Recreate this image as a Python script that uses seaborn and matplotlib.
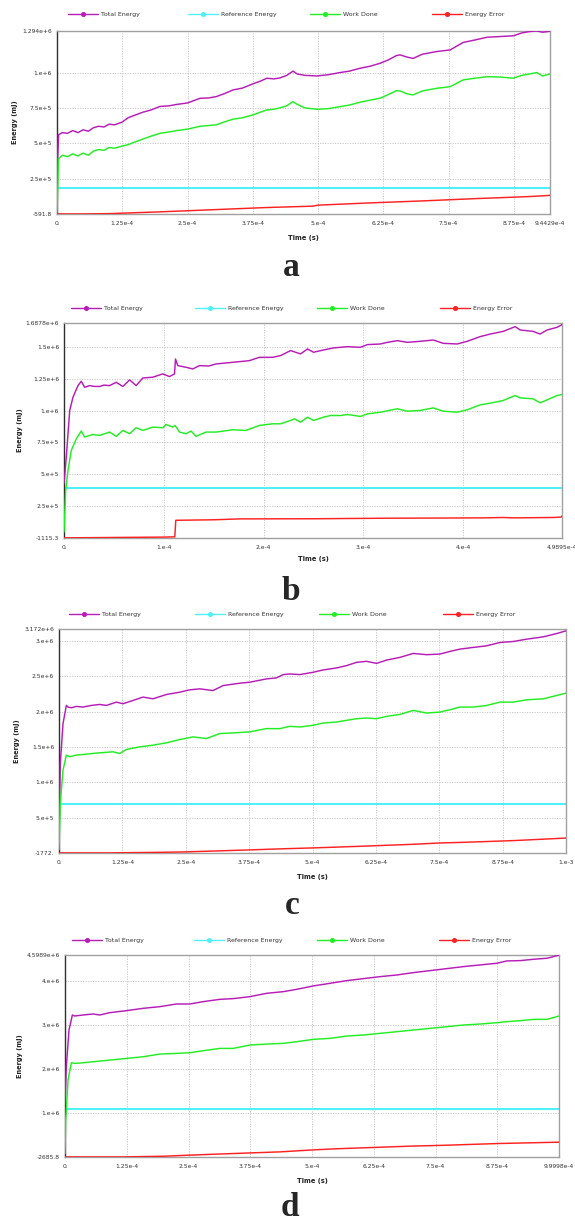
import matplotlib.pyplot as plt
import seaborn as sns
from matplotlib.lines import Line2D

sns.set_style("white")
plt.rcParams['font.family'] = ['DejaVu Sans']

# series names and colours
names = ['Total Energy', 'Reference Energy', 'Work Done', 'Energy Error']
colors = ['#b81cb8', '#4ff0f8', '#22ee22', '#ff2020']

# ---- panel a  (time in 1e-4 s, energy in 1e5 mJ)
a_t = [0, 0.03, 0.1, 0.2, 0.3, 0.4, 0.5, 0.6, 0.7, 0.8, 0.9, 1.0, 1.1, 1.25, 1.36, 1.5,
       1.65, 1.8, 1.97, 2.15, 2.3, 2.5, 2.74, 2.9, 3.05, 3.2, 3.37, 3.55, 3.75, 3.9, 4.02,
       4.15, 4.27, 4.4, 4.52, 4.6, 4.75, 4.98, 5.2, 5.42, 5.6, 5.8, 6.0, 6.19, 6.35, 6.5,
       6.57, 6.7, 6.82, 7.0, 7.28, 7.53, 7.78, 8.0, 8.24, 8.5, 8.74, 8.9, 9.05, 9.19, 9.3, 9.4429]
a_total = [2.5, 5.6, 5.75, 5.7, 5.9, 5.75, 5.95, 5.85, 6.1, 6.2, 6.15, 6.35, 6.3, 6.5, 6.8, 7.0,
           7.2, 7.35, 7.6, 7.65, 7.75, 7.85, 8.18, 8.2, 8.3, 8.5, 8.77, 8.9, 9.2, 9.4, 9.6,
           9.55, 9.62, 9.8, 10.1, 9.9, 9.8, 9.76, 9.85, 10.0, 10.1, 10.3, 10.45, 10.66, 10.9, 11.2,
           11.25, 11.1, 11.0, 11.3, 11.49, 11.6, 12.13, 12.3, 12.5, 12.55, 12.6, 12.8, 12.9, 12.94, 12.85, 12.92]
a_work = [0.0, 3.9, 4.15, 4.05, 4.25, 4.1, 4.3, 4.15, 4.45, 4.55, 4.5, 4.7, 4.65, 4.8, 4.9, 5.1,
          5.3, 5.5, 5.7, 5.8, 5.9, 6.0, 6.2, 6.25, 6.3, 6.5, 6.7, 6.8, 7.0, 7.2, 7.36,
          7.4, 7.5, 7.65, 7.94, 7.75, 7.5, 7.4, 7.45, 7.59, 7.7, 7.9, 8.05, 8.19, 8.45, 8.72,
          8.7, 8.5, 8.42, 8.7, 8.89, 9.0, 9.48, 9.6, 9.71, 9.68, 9.6, 9.8, 9.9, 10.0, 9.76, 9.9]
a_err_t = [0, 0.5, 1.0, 2.0, 3.0, 4.0, 4.9, 5.0, 6.0, 7.0, 8.0, 9.0, 9.4429]
a_err = [0, 0, 0.02, 0.15, 0.3, 0.45, 0.55, 0.62, 0.78, 0.92, 1.08, 1.22, 1.31]
a_ref = 1.82
a_xticks = [0, 1.25, 2.5, 3.75, 5, 6.25, 7.5, 8.75, 9.4429]
a_xlabels = ['0.', '1.25e-4', '2.5e-4', '3.75e-4', '5.e-4', '6.25e-4', '7.5e-4', '8.75e-4', '9.4429e-4']
a_yticks = [-0.005918, 2.5, 5, 7.5, 10, 12.94]
a_ylabels = ['-591.8', '2.5e+5', '5.e+5', '7.5e+5', '1.e+6', '1.294e+6']

# ---- panel b
b_t = [0, 0.023, 0.057, 0.09, 0.14, 0.173, 0.207, 0.257, 0.30, 0.357, 0.40, 0.457, 0.523,
       0.59, 0.657, 0.723, 0.79, 0.89, 0.99, 1.057, 1.107, 1.117, 1.14, 1.223, 1.29, 1.357,
       1.45, 1.523, 1.69, 1.857, 1.957, 2.09, 2.17, 2.27, 2.37, 2.44, 2.50, 2.60, 2.70, 2.84,
       2.97, 3.04, 3.17, 3.24, 3.34, 3.44, 3.57, 3.70, 3.80, 3.94, 4.04, 4.17, 4.27, 4.40,
       4.52, 4.57, 4.70, 4.77, 4.84, 4.94, 4.9895]
b_total = [4.26, 6.35, 10.0, 11.05, 11.96, 12.3, 11.83, 11.96, 11.9, 11.89, 12.0, 11.96, 12.22,
           11.89, 12.41, 11.96, 12.56, 12.62, 12.88, 12.67, 12.88, 14.05, 13.53, 13.4, 13.27, 13.53,
           13.5, 13.66, 13.79, 13.92, 14.18, 14.18, 14.32, 14.71, 14.45, 14.84, 14.58, 14.76, 14.92, 15.02,
           14.97, 15.18, 15.23, 15.36, 15.49, 15.36, 15.44, 15.54, 15.28, 15.23, 15.44, 15.81, 16.01, 16.22,
           16.59, 16.33, 16.22, 16.01, 16.33, 16.54, 16.75]
b_work_t = [0, 0.017, 0.04, 0.073, 0.123, 0.173, 0.207, 0.29, 0.357, 0.457, 0.523, 0.59, 0.657,
            0.723, 0.79, 0.89, 0.99, 1.023, 1.09, 1.113, 1.157, 1.223, 1.273, 1.323, 1.423, 1.523,
            1.69, 1.823, 1.957, 2.09, 2.17, 2.27, 2.31, 2.37, 2.44, 2.50, 2.60, 2.67, 2.77, 2.84,
            2.97, 3.04, 3.17, 3.34, 3.44, 3.57, 3.70, 3.80, 3.94, 4.04, 4.17, 4.27, 4.40, 4.52,
            4.57, 4.70, 4.77, 4.84, 4.94, 4.9895]
b_work = [0.47, 3.74, 5.3, 6.87, 7.78, 8.39, 7.92, 8.12, 8.05, 8.31, 7.97, 8.44, 8.18,
          8.65, 8.44, 8.7, 8.65, 8.91, 8.7, 8.83, 8.31, 8.18, 8.39, 7.97, 8.31, 8.31,
          8.49, 8.44, 8.83, 8.96, 8.96, 9.22, 9.35, 9.09, 9.48, 9.22, 9.48, 9.61, 9.61, 9.69,
          9.54, 9.74, 9.87, 10.14, 9.95, 10.01, 10.21, 9.95, 9.87, 10.06, 10.45, 10.58, 10.79, 11.18,
          11.0, 10.92, 10.61, 10.84, 11.18, 11.26]
b_err_t = [0, 0.5, 1.0, 1.11, 1.12, 1.5, 1.76, 2.5, 3.17, 4.2, 4.4, 4.5, 4.9, 4.98, 4.9895]
b_err = [0, 0.03, 0.06, 0.08, 1.38, 1.42, 1.49, 1.5, 1.54, 1.57, 1.6, 1.57, 1.6, 1.63, 1.7]
b_ref = 3.9
b_xticks = [0, 1, 2, 3, 4, 4.9895]
b_xlabels = ['0.', '1.e-4', '2.e-4', '3.e-4', '4.e-4', '4.9895e-4']
b_yticks = [-0.011153, 2.5, 5, 7.5, 10, 12.5, 15, 16.878]
b_ylabels = ['-1115.3', '2.5e+5', '5.e+5', '7.5e+5', '1.e+6', '1.25e+6', '1.5e+6', '1.6878e+6']

# ---- panel c
c_t = [0, 0.026, 0.079, 0.145, 0.178, 0.243, 0.342, 0.474, 0.638, 0.803, 0.934, 1.132, 1.263,
       1.461, 1.658, 1.855, 2.118, 2.382, 2.579, 2.776, 3.039, 3.237, 3.566, 3.763, 4.092, 4.289,
       4.42, 4.553, 4.75, 5.014, 5.21, 5.475, 5.672, 5.87, 6.067, 6.264, 6.462, 6.725, 6.987,
       7.25, 7.514, 7.711, 7.908, 8.171, 8.436, 8.698, 8.96, 9.225, 9.553, 9.817, 10.0]
c_total = [2.0, 12.68, 18.31, 20.89, 20.66, 20.56, 20.75, 20.66, 20.89, 21.03, 20.89, 21.36, 21.13,
           21.6, 22.07, 21.83, 22.44, 22.77, 23.1, 23.24, 23.0, 23.71, 24.04, 24.18, 24.65, 24.79,
           25.26, 25.35, 25.26, 25.59, 25.92, 26.2, 26.53, 27.0, 27.14, 26.85, 27.32, 27.7, 28.26,
           28.08, 28.17, 28.54, 28.87, 29.11, 29.34, 29.81, 29.95, 30.28, 30.61, 31.08, 31.46]
c_work_t = [0, 0.026, 0.079, 0.145, 0.211, 0.342, 0.54, 0.803, 1.066, 1.197, 1.329, 1.592, 1.855,
            2.118, 2.382, 2.645, 2.908, 3.171, 3.434, 3.763, 4.092, 4.356, 4.553, 4.75, 5.014, 5.21,
            5.475, 5.672, 5.87, 6.067, 6.264, 6.462, 6.725, 6.987, 7.25, 7.514, 7.711, 7.908, 8.171,
            8.436, 8.698, 8.96, 9.225, 9.553, 9.817, 10.0]
c_work = [0.47, 7.04, 11.74, 13.85, 13.62, 13.85, 13.99, 14.18, 14.32, 14.08, 14.65, 15.02, 15.26,
          15.59, 16.06, 16.43, 16.2, 16.9, 17.0, 17.14, 17.61, 17.6, 17.93, 17.84, 18.08, 18.4,
          18.54, 18.78, 19.01, 19.11, 19.01, 19.34, 19.62, 20.19, 19.81, 19.95, 20.28, 20.66, 20.66,
          20.89, 21.36, 21.36, 21.69, 21.83, 22.3, 22.63]
c_err_t = [0, 1.0, 1.25, 2.0, 2.5, 3.0, 3.75, 4.5, 5.0, 6.0, 7.0, 7.5, 8.0, 9.0, 10.0]
c_err = [0, 0, 0.02, 0.08, 0.14, 0.25, 0.42, 0.6, 0.7, 0.95, 1.22, 1.4, 1.5, 1.75, 2.1]
c_ref = 6.9
c_xticks = [0, 1.25, 2.5, 3.75, 5, 6.25, 7.5, 8.75, 10]
c_xlabels = ['0.', '1.25e-4', '2.5e-4', '3.75e-4', '5.e-4', '6.25e-4', '7.5e-4', '8.75e-4', '1.e-3']
c_yticks = [-0.01772, 5, 10, 15, 20, 25, 30, 31.72]
c_ylabels = ['-1772.', '5.e+5', '1.e+6', '1.5e+6', '2.e+6', '2.5e+6', '3.e+6', '3.172e+6']

# ---- panel d
d_t = [0, 0.027, 0.081, 0.149, 0.196, 0.365, 0.568, 0.703, 0.905, 1.243, 1.581, 1.919, 2.257,
       2.527, 2.797, 3.135, 3.405, 3.743, 4.081, 4.419, 4.69, 5.027, 5.366, 5.704, 6.04, 6.379,
       6.718, 7.054, 7.393, 7.731, 8.068, 8.406, 8.745, 8.947, 9.217, 9.487, 9.758, 9.9998]
d_total = [12.0, 20.53, 28.9, 32.32, 32.09, 32.32, 32.55, 32.32, 32.85, 33.31, 33.84, 34.22, 34.83,
           34.83, 35.36, 35.89, 36.05, 36.5, 37.26, 37.64, 38.17, 38.94, 39.54, 40.15, 40.61, 41.06,
           41.44, 41.98, 42.43, 42.89, 43.35, 43.73, 44.11, 44.64, 44.71, 45.02, 45.25, 45.94]
d_work_t = [0, 0.014, 0.061, 0.128, 0.196, 0.365, 0.568, 0.905, 1.243, 1.581, 1.919, 2.257, 2.527,
            2.797, 3.135, 3.405, 3.743, 4.081, 4.419, 4.69, 5.027, 5.366, 5.704, 6.04, 6.379, 6.718,
            7.054, 7.393, 7.731, 8.068, 8.406, 8.745, 8.947, 9.217, 9.487, 9.758, 9.9998]
d_work = [0.76, 8.37, 17.49, 21.44, 21.29, 21.44, 21.67, 22.05, 22.43, 22.81, 23.42, 23.57, 23.73,
          24.18, 24.71, 24.71, 25.48, 25.7, 25.86, 26.24, 26.77, 27.0, 27.53, 27.76, 28.14, 28.52,
          28.9, 29.28, 29.66, 30.04, 30.27, 30.57, 30.8, 31.03, 31.33, 31.33, 32.09]
d_err_t = [0, 1.2, 2.0, 2.49, 3.0, 3.74, 4.35, 5.03, 5.5, 6.38, 7.0, 7.73, 8.75, 9.9998]
d_err = [0, 0, 0.15, 0.38, 0.6, 0.9, 1.14, 1.6, 1.85, 2.2, 2.45, 2.66, 3.04, 3.35]
d_ref = 10.95
d_xticks = [0, 1.25, 2.5, 3.75, 5, 6.25, 7.5, 8.75, 9.9998]
d_xlabels = ['0.', '1.25e-4', '2.5e-4', '3.75e-4', '5.e-4', '6.25e-4', '7.5e-4', '8.75e-4', '9.9998e-4']
d_yticks = [-0.026858, 10, 20, 30, 40, 45.989]
d_ylabels = ['-2685.8', '1.e+6', '2.e+6', '3.e+6', '4.e+6', '4.5989e+6']

panel_letters = ['a', 'b', 'c', 'd']

# layout in pixels: left, right, top, bottom of each plot box
boxes = [(57, 550, 31, 214), (64, 562, 323, 538), (59, 566, 629, 853), (65, 559, 955, 1157)]
legend_y = [14, 308, 614, 940]
legend_x = [[68, 188, 310, 432], [71, 195, 317, 440], [69, 195, 319, 443], [72, 194, 317, 439]]
letter_pos = [(291, 268), (291, 591), (292, 906), (290, 1207)]
ylabel_x = [15, 20, 17, 20]
xlabel_y = [238, 559, 877, 1181]

W, H = 575, 1222
fig = plt.figure(figsize=(W / 100, H / 100), dpi=100)

panels = [
    (a_t, a_total, a_t, a_work, a_err_t, a_err, a_ref, a_xticks, a_xlabels, a_yticks, a_ylabels),
    (b_t, b_total, b_work_t, b_work, b_err_t, b_err, b_ref, b_xticks, b_xlabels, b_yticks, b_ylabels),
    (c_t, c_total, c_work_t, c_work, c_err_t, c_err, c_ref, c_xticks, c_xlabels, c_yticks, c_ylabels),
    (d_t, d_total, d_work_t, d_work, d_err_t, d_err, d_ref, d_xticks, d_xlabels, d_yticks, d_ylabels),
]

for i, p in enumerate(panels):
    tt, tot, wt, wk, et, er, ref, xt, xl, yt, yl = p
    left, right, top, bottom = boxes[i]
    ax = fig.add_axes([left / W, 1 - bottom / H, (right - left) / W, (bottom - top) / H])

    sx = lambda v: [x * 1e-4 for x in v]
    sy = lambda v: [y * 1e5 for y in v]

    sns.lineplot(x=sx(tt), y=sy(tot), ax=ax, color=colors[0], linewidth=1.05,
                 estimator=None, sort=False, zorder=3)
    ax.axhline(ref * 1e5, color=colors[1], linewidth=1.5, zorder=2)
    sns.lineplot(x=sx(wt), y=sy(wk), ax=ax, color=colors[2], linewidth=1.05,
                 estimator=None, sort=False, zorder=3)
    sns.lineplot(x=sx(et), y=sy(er), ax=ax, color=colors[3], linewidth=1.05,
                 estimator=None, sort=False, zorder=4)

    ax.set_xlim(xt[0] * 1e-4, xt[-1] * 1e-4)
    ax.set_ylim(yt[0] * 1e5, yt[-1] * 1e5)
    ax.set_xticks([x * 1e-4 for x in xt])
    ax.set_xticklabels(xl)
    ax.set_yticks([y * 1e5 for y in yt])
    ax.set_yticklabels(yl)
    ax.tick_params(axis='both', labelsize=4.3, length=2, width=0.6, color='#999999',
                   labelcolor='#333333', pad=1.5, direction='out')
    ax.tick_params(axis='x', pad=3)
    ax.grid(True, linestyle=(0, (1.5, 1.5)), color='#c4c4c4', linewidth=0.6)

    for s in ['top', 'right', 'bottom']:
        ax.spines[s].set_color('#a0a0a0')
        ax.spines[s].set_linewidth(1.0)
    ax.spines['left'].set_color('#303030')
    ax.spines['left'].set_linewidth(1.0)

    ax.set_xlabel('Time (s)', fontsize=4.8, fontweight='bold', color='#222222')
    ax.xaxis.set_label_coords(0.5, -(xlabel_y[i] - bottom) / (bottom - top))
    ax.xaxis.label.set_va('center')
    ax.set_ylabel('Energy (mJ)', fontsize=4.8, fontweight='bold', color='#222222')
    ax.yaxis.set_label_coords(-(left - ylabel_x[i]) / (right - left), 0.5)
    ax.yaxis.label.set_va('center')

    # legend entries spaced like the original, one figure legend per entry
    for name, col, lx in zip(names, colors, legend_x[i]):
        h = Line2D([], [], color=col, linewidth=1.0, marker='o', markersize=2.6)
        leg = fig.legend([h], [name], loc='center left', bbox_to_anchor=(lx / W, 1 - legend_y[i] / H),
                         frameon=False, fontsize=4.5, handlelength=4.8, handletextpad=0.5,
                         borderpad=0, borderaxespad=0, numpoints=1)
        for txt in leg.get_texts():
            txt.set_color('#333333')

    lx, ly = letter_pos[i]
    fig.text(lx / W, 1 - ly / H, panel_letters[i], ha='center', va='center',
             fontsize=24, fontweight='bold', family='Liberation Serif')

fig.savefig('out.png', dpi=100)
